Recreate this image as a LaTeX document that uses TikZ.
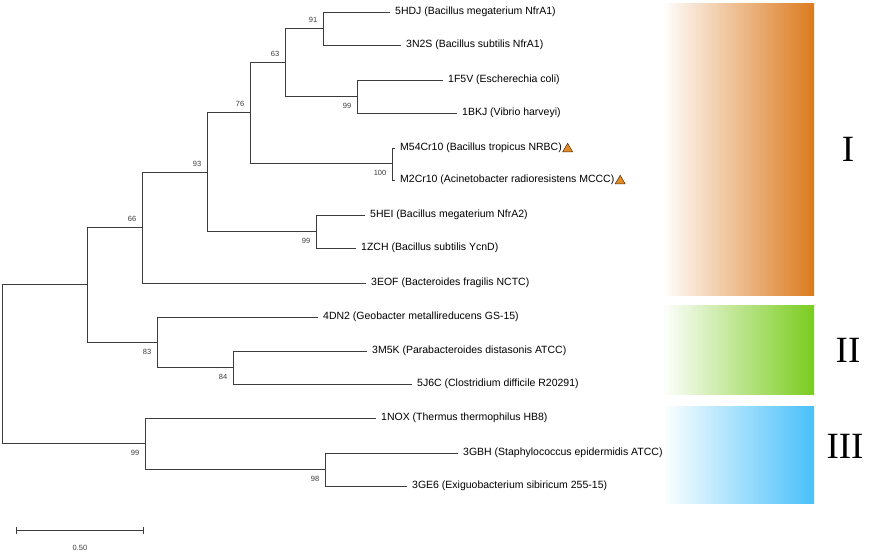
\documentclass[tikz,border=0pt]{standalone}
\usepackage{fontspec}
\setmainfont{Liberation Sans}
\newfontfamily\romfont{Liberation Serif}
\usetikzlibrary{positioning,shapes.geometric}
\definecolor{myorange}{RGB}{220,122,30}
\definecolor{mygreen}{RGB}{122,204,30}
\definecolor{myblue}{RGB}{72,192,250}
\definecolor{mytri}{RGB}{226,138,40}
\definecolor{mygray}{RGB}{60,60,60}

\begin{document}
\begin{tikzpicture}[x=1pt,y=-1pt]
	\tikzstyle{branch}=[draw=mygray,line width=0.8pt];
	\tikzstyle{leaf}=[anchor=west,inner xsep=5pt,inner ysep=1pt,font=\fontsize{10.5}{12}\selectfont];
	\tikzstyle{bootup}=[above left,inner xsep=5.5pt,inner ysep=4.8pt,font=\fontsize{7.5}{8}\selectfont,text=mygray];
	\tikzstyle{bootdn}=[below left,inner xsep=5.5pt,inner ysep=6.8pt,font=\fontsize{7.5}{8}\selectfont,text=mygray];
	\tikzstyle{tri}=[regular polygon,regular polygon sides=3,fill=mytri,draw=black!65!mytri,line width=0.5pt,minimum size=11.5pt,inner sep=0pt];
	\tikzstyle{clade}=[font=\romfont\fontsize{37}{40}\selectfont];
	\useasboundingbox (0,0) rectangle (872,559);
	\shade[left color=white,right color=myorange] (662,4) rectangle (814,295);
	\shade[left color=white,right color=mygreen]  (662,305) rectangle (814,394);
	\shade[left color=white,right color=myblue]   (662,406) rectangle (814,503);
	\node[clade] (cI)   at (848,149) {I};
	\node[clade] (cII)  at (848,350) {II};
	\node[clade] (cIII) at (845,446) {III};
	\coordinate (root) at (2,363);
	\coordinate (nA)   at (87,284);
	\coordinate (n66)  at (142,227);
	\coordinate (n93)  at (207,172);
	\coordinate (n76)  at (250,112);
	\coordinate (n63)  at (285,62);
	\coordinate (n91)  at (323,28);
	\coordinate (n99a) at (357,96);
	\coordinate (n100) at (392,163);
	\coordinate (n99b) at (316,231);
	\coordinate (n83)  at (157,342);
	\coordinate (n84)  at (233,367);
	\coordinate (n99c) at (145,443);
	\coordinate (n98)  at (325,469);
	\node[leaf] (l5HDJ) at (390,12)  {5HDJ (Bacillus megaterium NfrA1)};
	\node[leaf] (l3N2S) at (401,45)  {3N2S (Bacillus subtilis NfrA1)};
	\node[leaf] (l1F5V) at (443,80)  {1F5V (Escherechia coli)};
	\node[leaf] (l1BKJ) at (457,113) {1BKJ (Vibrio harveyi)};
	\node[leaf] (lM54)  at (395,148) {M54Cr10 (Bacillus tropicus NRBC)};
	\node[leaf] (lM2)   at (395,180) {M2Cr10 (Acinetobacter radioresistens MCCC)};
	\node[leaf] (l5HEI) at (365,215) {5HEI (Bacillus megaterium NfrA2)};
	\node[leaf] (l1ZCH) at (356,248) {1ZCH (Bacillus subtilis YcnD)};
	\node[leaf] (l3EOF) at (366,283) {3EOF (Bacteroides fragilis NCTC)};
	\node[leaf] (l4DN2) at (318,317) {4DN2 (Geobacter metallireducens GS-15)};
	\node[leaf] (l3M5K) at (367,351) {3M5K (Parabacteroides distasonis ATCC)};
	\node[leaf] (l5J6C) at (412,384) {5J6C (Clostridium difficile R20291)};
	\node[leaf] (l1NOX) at (376,418) {1NOX (Thermus thermophilus HB8)};
	\node[leaf] (l3GBH) at (458,453) {3GBH (Staphylococcus epidermidis ATCC)};
	\node[leaf] (l3GE6) at (407,486) {3GE6 (Exiguobacterium sibiricum 255-15)};
	\node[tri,right=-3pt of lM54.east,yshift=-1pt] (tM54) {};
	\node[tri,right=-3pt of lM2.east,yshift=-1pt]  (tM2)  {};
	\foreach \p/\c in {root/nA,root/n99c,nA/n66,nA/n83,n66/n93,n66/l3EOF,n93/n76,n93/n99b,
		n76/n63,n76/n100,n63/n91,n63/n99a,n91/l5HDJ,n91/l3N2S,n99a/l1F5V,n99a/l1BKJ,
		n100/lM54,n100/lM2,n99b/l5HEI,n99b/l1ZCH,n83/l4DN2,n83/n84,n84/l3M5K,n84/l5J6C,
		n99c/l1NOX,n99c/n98,n98/l3GBH,n98/l3GE6}
		\draw[branch] (\p) |- (\c);
	\node[bootup] (b91)  at (n91)  {91};
	\node[bootup] (b63)  at (n63)  {63};
	\node[bootup] (b76)  at (n76)  {76};
	\node[bootup] (b93)  at (n93)  {93};
	\node[bootup] (b66)  at (n66)  {66};
	\node[bootdn] (b99a) at (n99a) {99};
	\node[bootdn] (b100) at (n100) {100};
	\node[bootdn] (b99b) at (n99b) {99};
	\node[bootdn] (b83)  at (n83)  {83};
	\node[bootdn] (b84)  at (n84)  {84};
	\node[bootdn] (b99c) at (n99c) {99};
	\node[bootdn] (b98)  at (n98)  {98};
	\coordinate (sbL) at (16,530);
	\coordinate (sbR) at (143,530);
	\draw[branch] (sbL) -- (sbR);
	\draw[branch] ([yshift=3.5pt]sbL) -- ([yshift=-3.5pt]sbL);
	\draw[branch] ([yshift=3.5pt]sbR) -- ([yshift=-3.5pt]sbR);
	\node[font=\fontsize{7.5}{8}\selectfont,text=mygray] (sbT) at (80,548) {0.50};
\end{tikzpicture}
\end{document}
